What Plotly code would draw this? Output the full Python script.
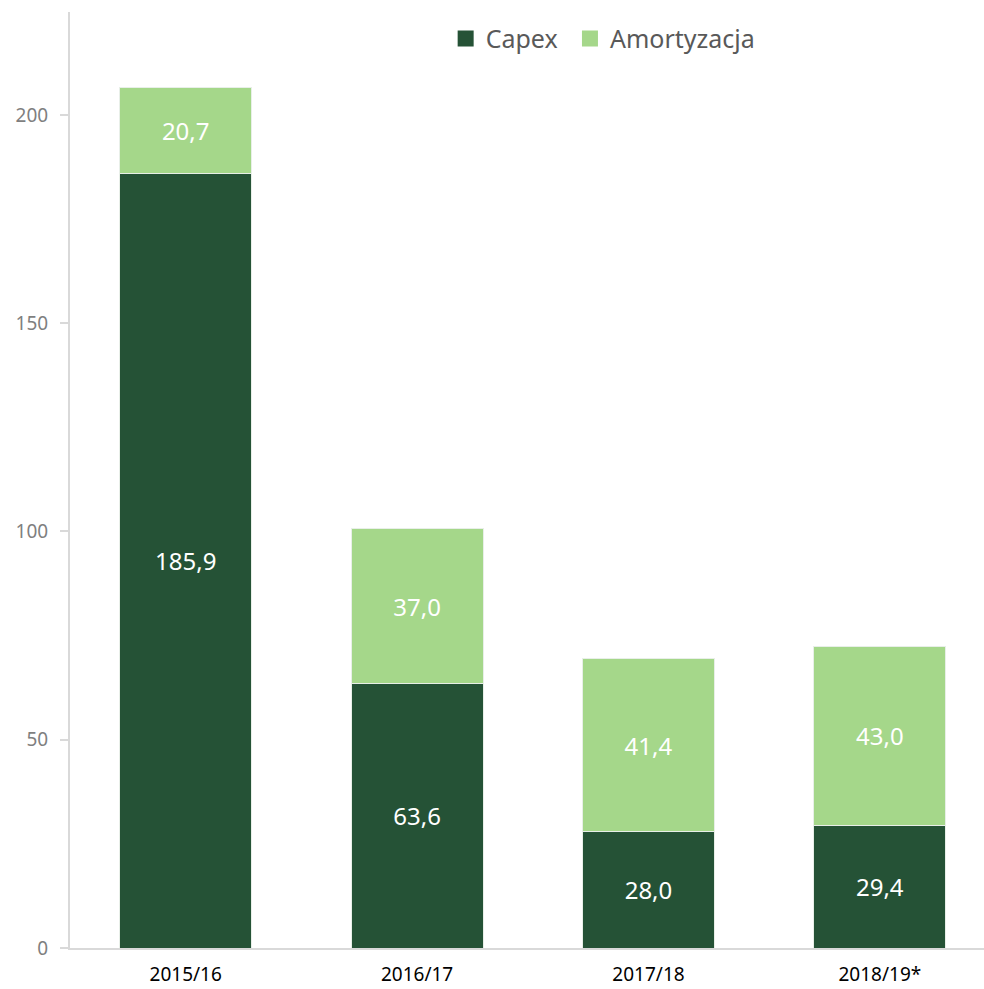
import plotly.graph_objects as go

# Capex vs. depreciation by fiscal year
years = ["2015/16", "2016/17", "2017/18", "2018/19*"]
capex = [185.9, 63.6, 28.0, 29.4]
amortyzacja = [20.7, 37.0, 41.4, 43.0]
y_ticks = [0, 50, 100, 150, 200]

dark_green = "#255236"
light_green = "#a5d78a"
font_family = "Noto Sans, Open Sans, sans-serif"

series = [("Capex", capex, dark_green, "legend", 0.411),
          ("Amortyzacja", amortyzacja, light_green, "legend2", 0.547)]

fig = go.Figure()
legend_layout = {}
for name, values, color, legend_id, legend_x in series:
    fig.add_trace(go.Bar(
        x=years, y=values, name=name, showlegend=False,
        marker=dict(color=color, line=dict(color="#e8efe8", width=1)),
        texttemplate="%{y:.1f}", textposition="inside", insidetextanchor="middle",
        textangle=0, textfont=dict(color="white", size=24, family=font_family),
    ))
    # square swatch for the legend entry
    fig.add_trace(go.Scatter(
        x=[None], y=[None], mode="markers", name=name, legend=legend_id,
        marker=dict(symbol="square", size=17, color=color),
    ))
    legend_layout[legend_id] = dict(
        orientation="h", x=legend_x, xanchor="left", y=0.996, yanchor="top",
        font=dict(size=25, color="#595959", family=font_family),
        bgcolor="rgba(0,0,0,0)", itemwidth=30,
    )

fig.update_layout(
    barmode="stack",
    bargap=0.43,
    width=984, height=989,
    margin=dict(l=70, r=0, t=12, b=41),
    paper_bgcolor="white", plot_bgcolor="white",
    separators=", ",
    font=dict(family=font_family),
    **legend_layout,
    xaxis=dict(
        range=[-0.5, 3.45], showgrid=False, showline=True,
        linecolor="#d9d9d9", linewidth=2, ticks="",
        tickfont=dict(size=19, color="#000000", family=font_family),
        ticklabelstandoff=8, fixedrange=True,
    ),
    yaxis=dict(
        range=[0, 224.7], tickvals=y_ticks, showgrid=False, zeroline=False,
        showline=True, linecolor="#d9d9d9", linewidth=2,
        ticks="outside", ticklen=8, tickcolor="#d9d9d9", tickwidth=2,
        tickfont=dict(size=19, color="#7f7f7f", family=font_family),
        ticklabelstandoff=8,
    ),
)

fig.write_html("out.html")
